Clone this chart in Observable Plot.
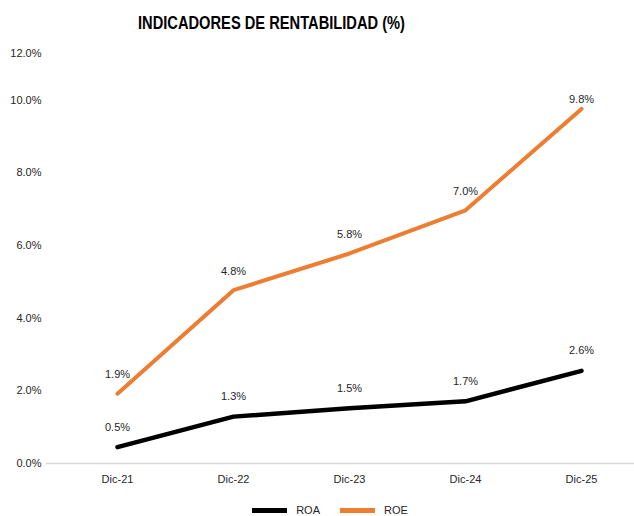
<!DOCTYPE html>
<html>
<head>
<meta charset="utf-8">
<script src="https://cdn.jsdelivr.net/npm/d3@7"></script>
<script src="https://cdn.jsdelivr.net/npm/@observablehq/plot@0.6"></script>
<style>
  body { margin: 0; background: #fff; font-family: "Liberation Sans", Arial, sans-serif; }
  #wrap { position: relative; width: 634px; height: 516px; overflow: hidden; }
  #title { position: absolute; top: 14px; left: 138px; font-size: 18px; line-height: 18px; font-weight: bold; color: #000; white-space: nowrap; transform-origin: 0 0; }
  #chart { position: absolute; top: 40px; left: 0; }
  #legend { position: absolute; top: 503px; left: 0; width: 634px; display: flex; justify-content: center; padding-left: 26px; box-sizing: border-box; font-size: 11px; line-height: 14px; color: #262626; }
  .item { display: flex; align-items: center; margin: 0 10px; }
  .sw { display: inline-block; width: 35px; height: 5px; margin-right: 9px; }
</style>
</head>
<body>
<div id="wrap">
  <div id="title"><span id="ttext">INDICADORES DE RENTABILIDAD (%)</span></div>
  <div id="chart"></div>
  <div id="legend"></div>
</div>
<script>
const categories = ["Dic-21", "Dic-22", "Dic-23", "Dic-24", "Dic-25"];
const roa = [0.45, 1.29, 1.52, 1.71, 2.55];
const roe = [1.92, 4.77, 5.78, 6.97, 9.76];
const roaLabels = ["0.5%", "1.3%", "1.5%", "1.7%", "2.6%"];
const roeLabels = ["1.9%", "4.8%", "5.8%", "7.0%", "9.8%"];
const yTicks = [0, 2, 4, 6, 8, 10];
const yTopTick = [12];
const seriesNames = ["ROA", "ROE"];
const seriesColors = ["#000000", "#ED7D31"];

const roaData = categories.map((c, i) => ({cat: c, v: roa[i], label: roaLabels[i], i}));
const roeData = categories.map((c, i) => ({cat: c, v: roe[i], label: roeLabels[i], i}));

const fmt = d => d.toFixed(1) + "%";
const textColor = "#262626";

const chart = Plot.plot({
  width: 634,
  height: 450,
  marginLeft: 46,
  marginRight: 0,
  marginTop: 0,
  marginBottom: 27,
  style: { fontSize: "11px", fontFamily: "'Liberation Sans', Arial, sans-serif", color: textColor, background: "transparent" },
  x: { type: "point", domain: categories, range: [116, 582], padding: 0 },
  y: { domain: [0, 12], range: [423, -13] },
  marks: [
    Plot.ruleY([0], { stroke: "#d9d9d9", strokeWidth: 1.5 }),
    Plot.axisX({ tickSize: 0, tickPadding: 12, label: null, fill: textColor }),
    Plot.axisY(yTicks, { tickSize: 0, tickPadding: 5, tickFormat: fmt, label: null, fill: textColor }),
    Plot.axisY(yTopTick, { tickSize: 0, tickPadding: 5, tickFormat: fmt, label: null, dy: 26, fill: textColor }),
    Plot.line(roaData, { x: "cat", y: "v", stroke: seriesColors[0], strokeWidth: 4.5, strokeLinejoin: "round" }),
    Plot.line(roeData, { x: "cat", y: "v", stroke: seriesColors[1], strokeWidth: 4, strokeLinejoin: "round" }),
    Plot.text(roaData, { x: "cat", y: "v", text: "label", dy: -20, fill: textColor }),
    Plot.text(roeData.filter(d => d.i < 4), { x: "cat", y: "v", text: "label", dy: -19, fill: textColor }),
    Plot.text(roeData.filter(d => d.i === 4), { x: "cat", y: "v", text: "label", dy: -9, fill: textColor })
  ]
});
document.getElementById("chart").appendChild(chart);

const legend = document.getElementById("legend");
seriesNames.forEach((name, k) => {
  const item = document.createElement("div");
  item.className = "item";
  const sw = document.createElement("span");
  sw.className = "sw";
  sw.style.background = seriesColors[k];
  const t = document.createElement("span");
  t.textContent = name;
  item.appendChild(sw);
  item.appendChild(t);
  legend.appendChild(item);
});

// condense title to match reference width
const tt = document.getElementById("ttext");
const w = tt.getBoundingClientRect().width;
const target = 267;
if (w > 0) document.getElementById("title").style.transform = `scaleX(${target / w})`;
</script>
</body>
</html>
